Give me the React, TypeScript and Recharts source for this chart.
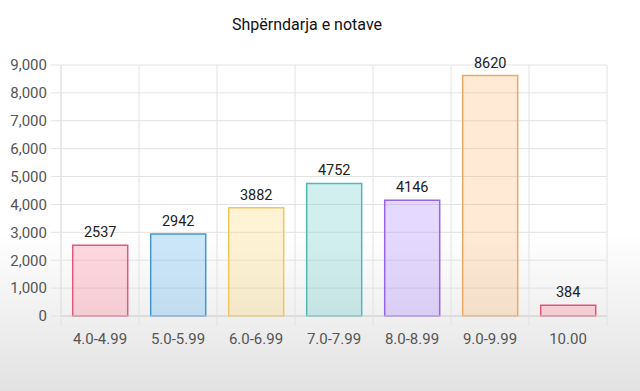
import React from "react";
import { BarChart, Bar, XAxis, YAxis, CartesianGrid, Cell, LabelList } from "recharts";

const categories = ["4.0-4.99", "5.0-5.99", "6.0-6.99", "7.0-7.99", "8.0-8.99", "9.0-9.99", "10.00"];
const counts = [2537, 2942, 3882, 4752, 4146, 8620, 384];
const yTicks = [0, 1000, 2000, 3000, 4000, 5000, 6000, 7000, 8000, 9000];
const fills = [
  "rgba(255,99,132,0.25)",
  "rgba(54,162,235,0.25)",
  "rgba(255,206,86,0.25)",
  "rgba(75,192,192,0.25)",
  "rgba(153,102,255,0.25)",
  "rgba(255,159,64,0.22)",
  "rgba(255,99,132,0.25)",
];
const strokes = [
  "rgb(220,90,130)",
  "rgb(70,150,210)",
  "rgb(240,200,90)",
  "rgb(80,185,180)",
  "rgb(150,100,230)",
  "rgb(235,170,100)",
  "rgb(215,90,125)",
];

const data = categories.map((c, i) => ({ name: c, value: counts[i] }));

const W = 640;
const H = 391;
const M = { top: 65, right: 33, left: 0, bottom: 45 };
const Y_W = 61;
const PLOT_W = W - M.left - M.right - Y_W;
const HALF = PLOT_W / categories.length / 2;
const GRID = "#e2e2e2";
const FONT = "Roboto, 'Liberation Sans', Arial, sans-serif";

const XTick = (props: any) => {
  const { x, y, payload, index } = props;
  const last = index === categories.length - 1;
  return (
    <g>
      <line x1={x - HALF} x2={x - HALF} y1={y} y2={y + 10} stroke={GRID} />
      {last && <line x1={x + HALF} x2={x + HALF} y1={y} y2={y + 10} stroke={GRID} />}
      <text x={x} y={y + 28} textAnchor="middle" fill="#555" fontSize={15} fontFamily={FONT}>
        {payload.value}
      </text>
    </g>
  );
};

export default function App() {
  return (
    <div
      style={{
        position: "absolute",
        left: 0,
        top: 0,
        width: W,
        height: H,
        background: "linear-gradient(to bottom, #ffffff 0%, #ffffff 60%, #e2e2e2 100%)",
        fontFamily: FONT,
      }}
    >
      <div
        style={{
          position: "absolute",
          left: 0,
          width: 614,
          top: 15,
          textAlign: "center",
          fontSize: 16,
          color: "#111",
        }}
      >
        Shpërndarja e notave
      </div>
      <BarChart width={W} height={H} data={data} margin={M} barCategoryGap="15%">
        <CartesianGrid
          stroke={GRID}
          verticalCoordinatesGenerator={({ offset }: any) =>
            categories.map((_, i) => offset.left + (i * offset.width) / categories.length).concat([offset.left + offset.width])
          }
        />
        <XAxis
          dataKey="name"
          tickLine={false}
          tickSize={0}
          tickMargin={0}
          axisLine={{ stroke: "#cfcfcf" }}
          tick={<XTick />}
          interval={0}
          height={30}
        />
        <YAxis
          width={Y_W}
          domain={[0, 9000]}
          ticks={yTicks}
          tickSize={10}
          tickMargin={4}
          tickLine={{ stroke: GRID }}
          axisLine={{ stroke: GRID }}
          tick={{ fill: "#555", fontSize: 15, fontFamily: FONT }}
          tickFormatter={(v: number) => v.toLocaleString("en-US")}
          interval={0}
        />
        <Bar dataKey="value" isAnimationActive={false} strokeWidth={1.5}>
          {data.map((_, i) => (
            <Cell key={i} fill={fills[i]} stroke={strokes[i]} />
          ))}
          <LabelList dataKey="value" position="top" offset={8} fill="#222" fontSize={14.5} fontFamily={FONT} />
        </Bar>
      </BarChart>
    </div>
  );
}
